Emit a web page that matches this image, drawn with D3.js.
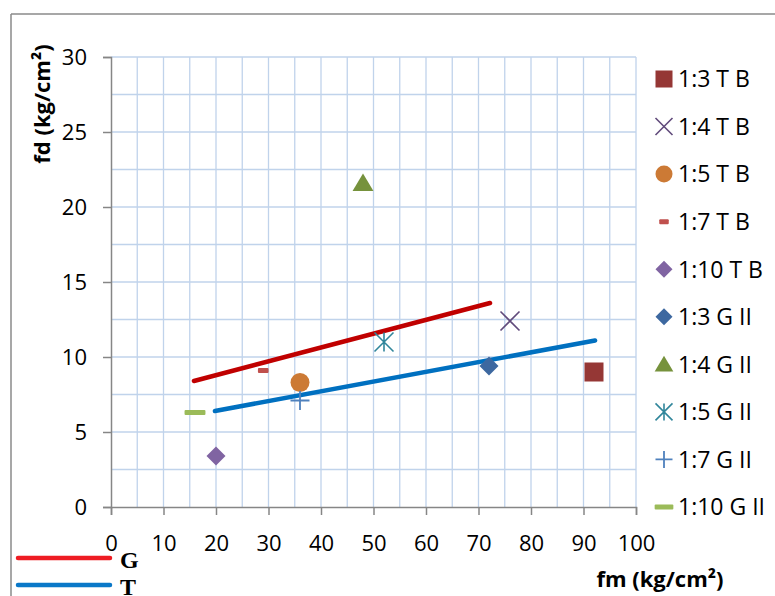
<!DOCTYPE html>
<html>
<head>
<meta charset="utf-8">
<script src="https://cdn.jsdelivr.net/npm/d3@7"></script>
<style>
  html, body { margin: 0; padding: 0; background: #fff; }
  svg { display: block; }
</style>
</head>
<body>
<svg id="chart" width="775" height="596"></svg>
<script>
// ---- data ----
const seriesNames = ["1:3 T B", "1:4 T B", "1:5 T B", "1:7 T B", "1:10 T B",
                     "1:3 G II", "1:4 G II", "1:5 G II", "1:7 G II", "1:10 G II"];
const seriesFm = [92, 76, 36, 29, 20, 72, 48, 52, 36, 16];
const seriesFd = [9.0, 12.4, 8.3, 9.1, 3.4, 9.4, 21.6, 11.0, 7.1, 6.3];
const lineNames = ["G", "T"];
const lineGFm = [15.8, 72.2];
const lineGFd = [8.4, 13.6];
const lineTFm = [19.8, 92.2];
const lineTFd = [6.4, 11.1];
const xTicks = [0, 10, 20, 30, 40, 50, 60, 70, 80, 90, 100];
const yTicks = [0, 5, 10, 15, 20, 25, 30];
const xTitle = "fm (kg/cm²)";
const yTitle = "fd (kg/cm²)";

// ---- styles ----
const markerShapes = ["square", "x", "circle", "dash", "diamond",
                      "diamond", "triangle", "asterisk", "plus", "longdash"];
const markerColors = ["#953735", "#604a7b", "#cc7a35", "#c0504d", "#8064a2",
                      "#3d68a0", "#76923c", "#31869b", "#4f81bd", "#9bbb59"];
const SANS = "'Open Sans', 'Noto Sans', sans-serif";
const SERIF = "'Liberation Serif', 'DejaVu Serif', serif";

const svg = d3.select("#chart");

// frame
svg.append("line").attr("x1", 11).attr("y1", 14).attr("x2", 775).attr("y2", 14)
  .attr("stroke", "#8a8a8a").attr("stroke-width", 1.5);
svg.append("line").attr("x1", 11).attr("y1", 14).attr("x2", 11).attr("y2", 596)
  .attr("stroke", "#8a8a8a").attr("stroke-width", 1.5);

const x = d3.scaleLinear().domain([0, 100]).range([111, 636]);
const y = d3.scaleLinear().domain([0, 30]).range([507, 57]);

// grid
const grid = svg.append("g");
grid.selectAll("line.v").data(d3.range(5, 100.1, 5)).join("line")
  .attr("x1", d => x(d)).attr("x2", d => x(d)).attr("y1", y(30)).attr("y2", y(0))
  .attr("stroke", "#c0d3eb").attr("stroke-width", 1.3);
grid.selectAll("line.h").data(d3.range(2.5, 30.1, 2.5)).join("line")
  .attr("x1", x(0)).attr("x2", x(100)).attr("y1", d => y(d)).attr("y2", d => y(d))
  .attr("stroke", "#c0d3eb").attr("stroke-width", 1.3);

// axes
const xAxis = svg.append("g").attr("transform", `translate(0,${y(0)})`)
  .call(d3.axisBottom(x).tickValues(xTicks).tickSize(8).tickPadding(26).tickFormat(d3.format("d")));
const yAxis = svg.append("g").attr("transform", `translate(${x(0)},0)`)
  .call(d3.axisLeft(y).tickValues(yTicks).tickSize(8).tickPadding(16).tickFormat(d3.format("d")));
[xAxis, yAxis].forEach(a => {
  a.select(".domain").attr("stroke", "#868686").attr("stroke-width", 1.5);
  a.selectAll(".tick line").attr("stroke", "#868686").attr("stroke-width", 1.5);
  a.selectAll(".tick text").style("font-size", "22px").style("font-family", SANS).attr("fill", "#000");
});
xAxis.selectAll(".tick text").attr("dy", "0.45em");

// marker drawing
function drawMarker(g, shape, color, s) {
  const h = s / 2;
  switch (shape) {
    case "square":
      g.append("rect").attr("x", -h).attr("y", -h).attr("width", s).attr("height", s).attr("fill", color); break;
    case "circle":
      g.append("circle").attr("r", h).attr("fill", color); break;
    case "diamond":
      g.append("path").attr("d", `M0,${-h}L${h},0L0,${h}L${-h},0Z`).attr("fill", color); break;
    case "triangle":
      g.append("path").attr("d", `M0,${-h}L${h * 1.1},${h * 0.85}L${-h * 1.1},${h * 0.85}Z`).attr("fill", color); break;
    case "x":
      g.append("path").attr("d", `M${-h},${-h}L${h},${h}M${-h},${h}L${h},${-h}`)
        .attr("stroke", color).attr("stroke-width", 1.6).attr("fill", "none"); break;
    case "plus":
      g.append("path").attr("d", `M${-h},0L${h},0M0,${-h}L0,${h}`)
        .attr("stroke", color).attr("stroke-width", 1.8).attr("fill", "none"); break;
    case "asterisk":
      g.append("path").attr("d", `M${-h},${-h}L${h},${h}M${-h},${h}L${h},${-h}M0,${-h}L0,${h}`)
        .attr("stroke", color).attr("stroke-width", 1.6).attr("fill", "none"); break;
    case "dash":
      g.append("rect").attr("x", -s * 0.28).attr("y", -2.5).attr("width", s * 0.56).attr("height", 5)
        .attr("rx", 1).attr("fill", color); break;
    case "longdash":
      g.append("rect").attr("x", -h * 1.1).attr("y", -2.5).attr("width", s * 1.1).attr("height", 5)
        .attr("rx", 1).attr("fill", color); break;
  }
}

// trend lines
const lineGen = d3.line().x(d => x(d[0])).y(d => y(d[1]));
svg.append("path").datum(d3.zip(lineGFm, lineGFd)).attr("d", lineGen)
  .attr("stroke", "#c00000").attr("stroke-width", 4.5).attr("fill", "none").attr("stroke-linecap", "round");
svg.append("path").datum(d3.zip(lineTFm, lineTFd)).attr("d", lineGen)
  .attr("stroke", "#0070c0").attr("stroke-width", 4.5).attr("fill", "none").attr("stroke-linecap", "round");

// points
seriesNames.forEach((n, i) => {
  const g = svg.append("g").attr("transform", `translate(${x(seriesFm[i])},${y(seriesFd[i])})`);
  drawMarker(g, markerShapes[i], markerColors[i], 19);
});

// legend (right)
const legY = d3.scalePoint().domain(seriesNames).range([79, 507]);
seriesNames.forEach((n, i) => {
  const g = svg.append("g").attr("transform", `translate(664,${legY(n)})`);
  drawMarker(g, markerShapes[i], markerColors[i], 17);
  g.append("text").attr("x", 14).attr("y", 0).attr("dy", "0.36em")
    .style("font-family", SANS).style("font-size", "23px").text(n);
});

// axis titles
svg.append("text").attr("x", 660).attr("y", 587).attr("text-anchor", "middle")
  .style("font-family", SANS).style("font-size", "22px").style("font-weight", "bold").text(xTitle);
svg.append("text").attr("transform", "translate(50,104) rotate(-90)").attr("text-anchor", "middle")
  .style("font-family", SANS).style("font-size", "22px").style("font-weight", "bold").text(yTitle);

// bottom-left line legend
const lineColors = ["#ee1c23", "#0a78c8"];
const lineLegY = [558, 585];
lineNames.forEach((n, i) => {
  svg.append("line").attr("x1", 18).attr("x2", 110).attr("y1", lineLegY[i]).attr("y2", lineLegY[i])
    .attr("stroke", lineColors[i]).attr("stroke-width", 4.5).attr("stroke-linecap", "round");
  svg.append("text").attr("x", 120).attr("y", lineLegY[i] + 10)
    .style("font-family", SERIF).style("font-weight", "bold").style("font-size", "24px").text(n);
});
</script>
</body>
</html>
